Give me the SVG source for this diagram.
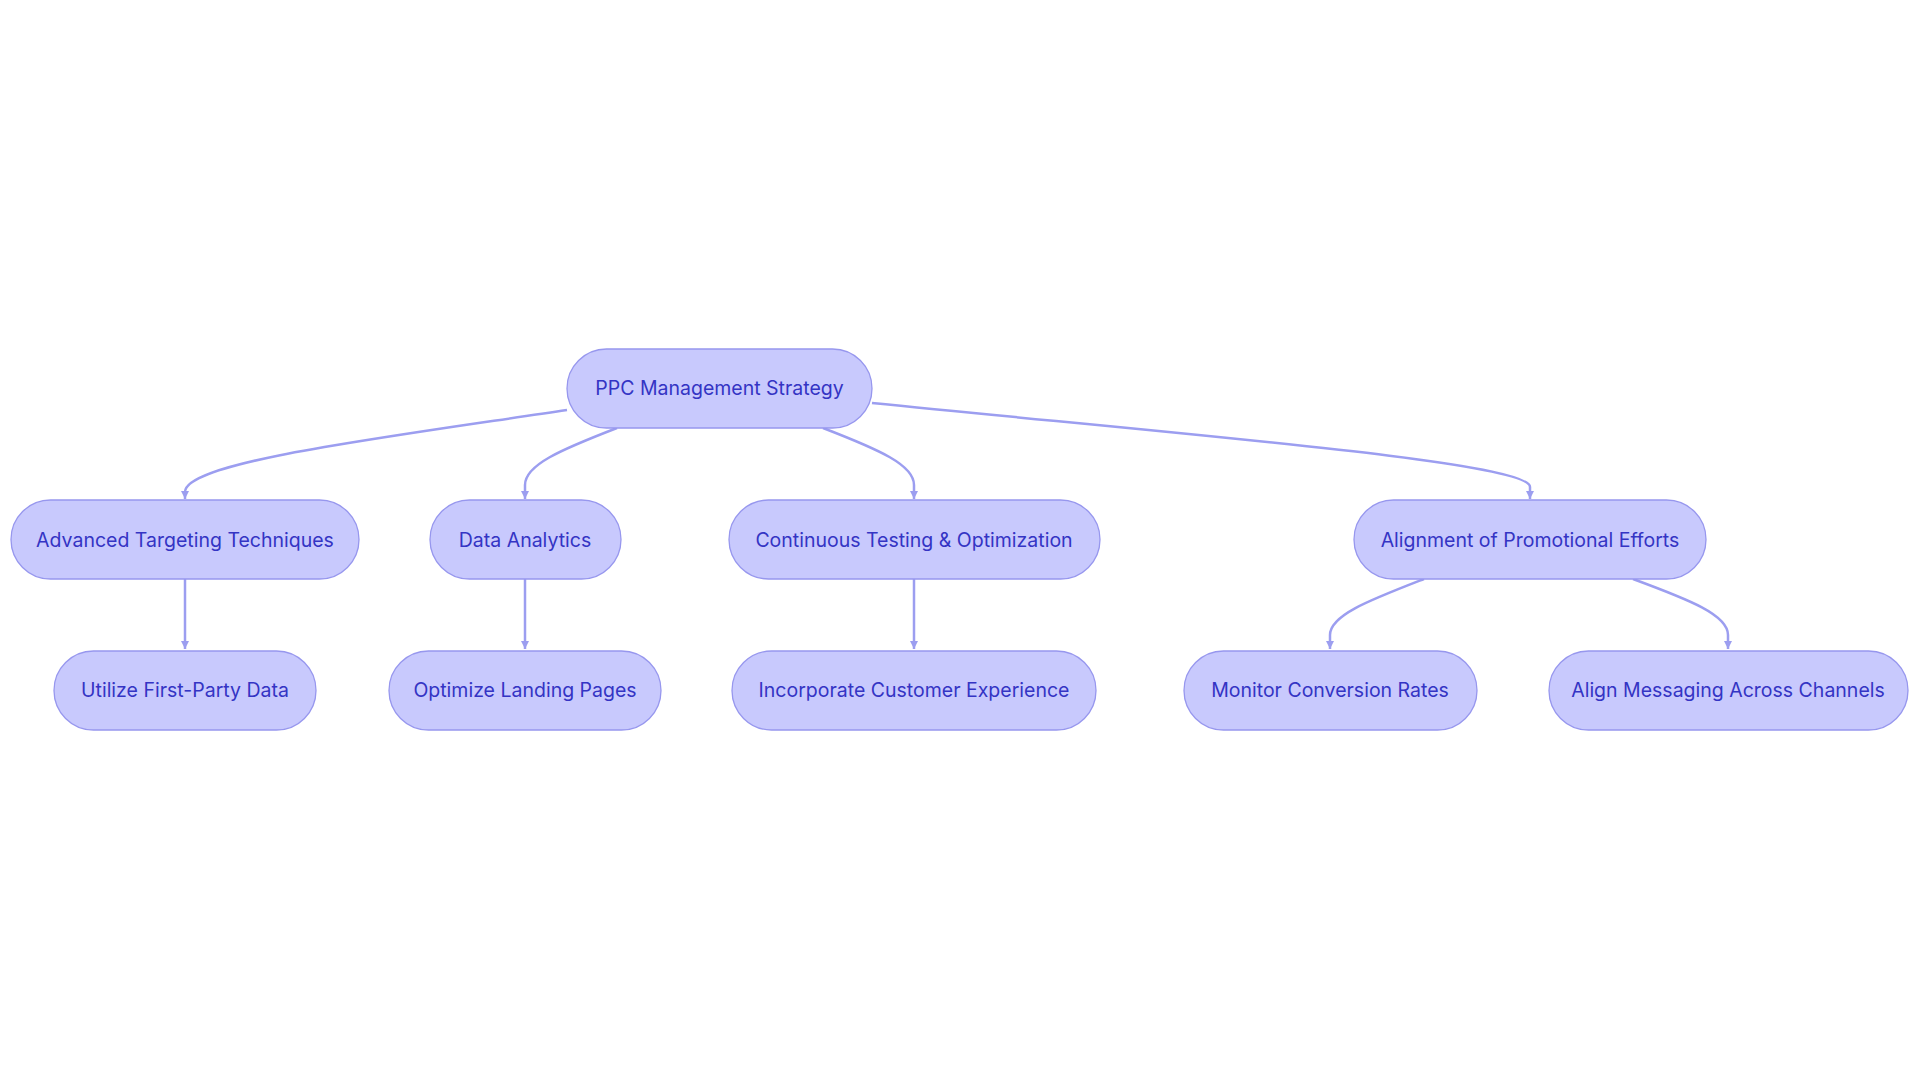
<svg xmlns="http://www.w3.org/2000/svg" width="1920" height="1083" viewBox="0 0 1920 1083">
<style>
.n rect{fill:#c8c9fd;stroke:#9797ee;stroke-width:1.3}
.n text{font-family:Inter,"Liberation Sans",sans-serif;font-size:19.5px;fill:#3434c4;text-anchor:middle;dominant-baseline:central}
.e path{fill:none;stroke:#9c9ef0;stroke-width:2.5}
</style>
<defs><marker id="a" viewBox="0 0 10 10" refX="10" refY="5" markerWidth="8" markerHeight="8" orient="auto" markerUnits="userSpaceOnUse"><path d="M0,0L10,5L0,10z" fill="#9c9ef0"/></marker></defs>
<rect width="1920" height="1083" fill="#fff"/>
<g class="e">
<path marker-end="url(#a)" d="M567,410 C380,438 185,462 185,492 L185,499" style="marker-end:url(#a)"/>
<path d="M617,428 C560,450 525,465 525,485 L525,499" marker-end="url(#a)"/>
<path d="M823,428 C880,450 914,465 914,485 L914,499" marker-end="url(#a)"/>
<path d="M872,403 C1200,436 1530,462 1530,487 L1530,499" marker-end="url(#a)"/>
<path d="M185,579 L185,649" marker-end="url(#a)"/>
<path d="M525,579 L525,649" marker-end="url(#a)"/>
<path d="M914,579 L914,649" marker-end="url(#a)"/>
<path d="M1424,579 C1370,600 1330,615 1330,635 L1330,649" marker-end="url(#a)"/>
<path d="M1633,579 C1690,600 1728,615 1728,635 L1728,649" marker-end="url(#a)"/>
</g>
<g id="root" class="n"><rect x="567" y="349" width="305" height="79" rx="39.5"/><text x="719.5" y="388">PPC Management Strategy</text></g>
<g id="adv" class="n"><rect x="11" y="500" width="348" height="79" rx="39.5"/><text x="185" y="540">Advanced Targeting Techniques</text></g>
<g id="data" class="n"><rect x="430" y="500" width="191" height="79" rx="39.5"/><text x="525" y="540">Data Analytics</text></g>
<g id="cont" class="n"><rect x="729" y="500" width="371" height="79" rx="39.5"/><text x="914" y="540">Continuous Testing &amp; Optimization</text></g>
<g id="align" class="n"><rect x="1354" y="500" width="352" height="79" rx="39.5"/><text x="1530" y="540">Alignment of Promotional Efforts</text></g>
<g id="util" class="n"><rect x="54" y="651" width="262" height="79" rx="39.5"/><text x="185" y="690">Utilize First-Party Data</text></g>
<g id="opt" class="n"><rect x="389" y="651" width="272" height="79" rx="39.5"/><text x="525" y="690">Optimize Landing Pages</text></g>
<g id="inc" class="n"><rect x="732" y="651" width="364" height="79" rx="39.5"/><text x="914" y="690">Incorporate Customer Experience</text></g>
<g id="mon" class="n"><rect x="1184" y="651" width="293" height="79" rx="39.5"/><text x="1330" y="690">Monitor Conversion Rates</text></g>
<g id="msg" class="n"><rect x="1549" y="651" width="359" height="79" rx="39.5"/><text x="1728" y="690">Align Messaging Across Channels</text></g>
</svg>
